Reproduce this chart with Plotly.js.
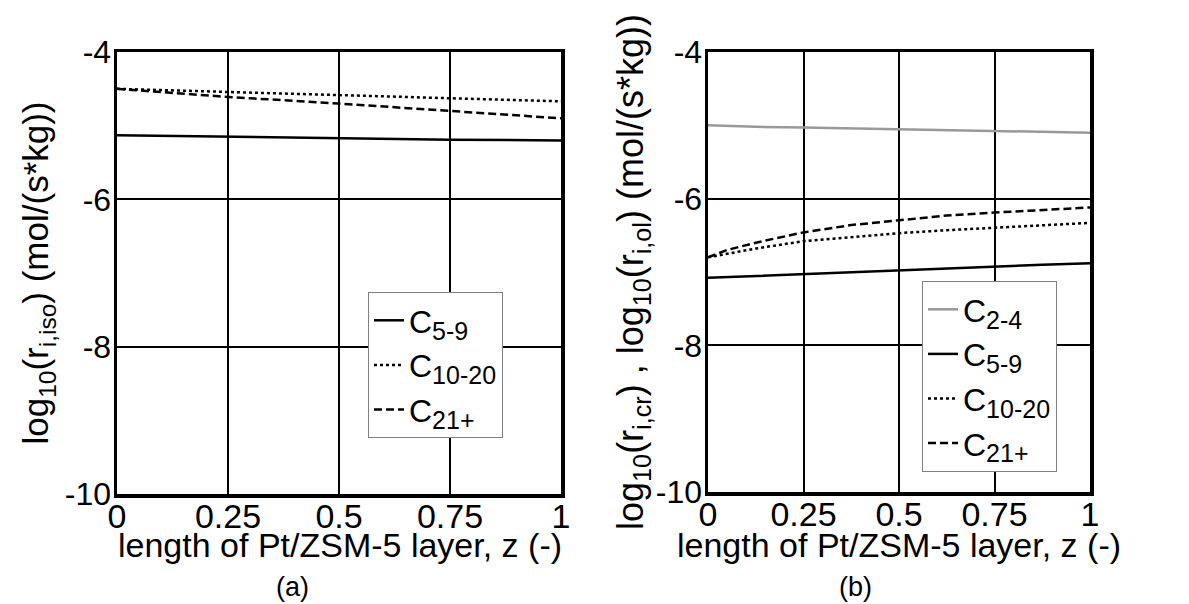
<!DOCTYPE html>
<html>
<head>
<meta charset="utf-8">
<script src="https://cdn.plot.ly/plotly-3.0.1.min.js"></script>
<style>html,body{margin:0;padding:0;background:#fff}#chart{width:1189px;height:604px}</style>
</head>
<body>
<div id="chart"></div>
<script>
// ---- data ----
var zLeft = [0, 0.25, 0.5, 0.75, 1];
var isoC5_9   = [-5.13, -5.15, -5.17, -5.19, -5.20];
var isoC10_20 = [-4.50, -4.54, -4.58, -4.62, -4.67];
var isoC21    = [-4.50, -4.61, -4.70, -4.80, -4.90];

var zRight = [0, 0.05, 0.125, 0.25, 0.375, 0.5, 0.625, 0.75, 0.875, 1];
var olC2_4    = [-5.00, -5.01, -5.02, -5.03, -5.04, -5.05, -5.06, -5.07, -5.085, -5.10];
var olC5_9    = [-7.08, -7.07, -7.05, -7.03, -7.00, -6.97, -6.945, -6.92, -6.90, -6.88];
var olC10_20  = [-6.80, -6.75, -6.68, -6.58, -6.52, -6.47, -6.43, -6.40, -6.36, -6.33];
var olC21     = [-6.80, -6.70, -6.60, -6.46, -6.36, -6.29, -6.23, -6.19, -6.15, -6.12];

var xTickVals = [0, 0.25, 0.5, 0.75, 1];
var xTickText = ['0', '0.25', '0.5', '0.75', '1'];
var yTickVals = [-10, -8, -6, -4];
var yTickText = ['-10', '-8', '-6', '-4'];

var SUB = function(s){ return 'C<sub><span style="font-size:25px">' + s + '</span></sub>'; };
var namesLeft  = [SUB('5-9'), SUB('10-20'), SUB('21+')];
var namesRight = [SUB('2-4'), SUB('5-9'), SUB('10-20'), SUB('21+')];

var xTitle = 'length of Pt/ZSM-5 layer, z (-)';
var yTitleLeft = 'log<sub>10</sub>(r<sub>i,iso</sub>) (mol/(s*kg))';
var yTitleRight = 'log<sub>10</sub>(r<sub>i,cr</sub>) , log<sub>10</sub>(r<sub>i,ol</sub>) (mol/(s*kg))';
var panelLabels = ['(a)', '(b)'];

// ---- styles ----
var FONT = 'Liberation Sans, Arial, sans-serif';
var solid = {color: '#000', width: 2.5, dash: 'solid'};
var dotted = {color: '#000', width: 2.5, dash: '3px,3px'};
var dashed = {color: '#000', width: 2.5, dash: '8px,4px'};
var grey = {color: '#999999', width: 2.5, dash: 'solid'};

var traces = [
  {x: zLeft, y: isoC5_9, name: namesLeft[0], line: solid, xaxis: 'x', yaxis: 'y', legend: 'legend'},
  {x: zLeft, y: isoC10_20, name: namesLeft[1], line: dotted, xaxis: 'x', yaxis: 'y', legend: 'legend'},
  {x: zLeft, y: isoC21, name: namesLeft[2], line: dashed, xaxis: 'x', yaxis: 'y', legend: 'legend'},
  {x: zRight, y: olC2_4, name: namesRight[0], line: grey, xaxis: 'x2', yaxis: 'y2', legend: 'legend2'},
  {x: zRight, y: olC5_9, name: namesRight[1], line: solid, xaxis: 'x2', yaxis: 'y2', legend: 'legend2'},
  {x: zRight, y: olC10_20, name: namesRight[2], line: dotted, xaxis: 'x2', yaxis: 'y2', legend: 'legend2'},
  {x: zRight, y: olC21, name: namesRight[3], line: dashed, xaxis: 'x2', yaxis: 'y2', legend: 'legend2'}
];
traces.forEach(function(t){ t.type = 'scatter'; t.mode = 'lines'; });

function xa(domain, anchor) {
  return {
    domain: domain, anchor: anchor, range: [0, 1],
    tickmode: 'array', tickvals: xTickVals, ticktext: xTickText,
    tickfont: {family: FONT, size: 34, color: '#000'}, ticklabelstandoff: -10,
    showgrid: true, gridcolor: '#000', gridwidth: 2, zeroline: false,
    showline: true, linecolor: '#000', linewidth: 3.5, mirror: true,
    ticks: '', automargin: false
  };
}
function ya(domain, anchor, title, size, standoff) {
  return {
    domain: domain, anchor: anchor, range: [-10, -4],
    tickmode: 'array', tickvals: yTickVals, ticktext: yTickText,
    tickfont: {family: FONT, size: 32, color: '#000'},
    showgrid: true, gridcolor: '#000', gridwidth: 2, zeroline: false,
    showline: true, linecolor: '#000', linewidth: 3.5, mirror: true,
    ticks: '', automargin: false, ticklabelstandoff: -4,
    title: {text: title, font: {family: FONT, size: size, color: '#000'}, standoff: standoff}
  };
}

var legendStyle = function(x, y) {
  return {
    x: x, y: y, xanchor: 'left', yanchor: 'top', xref: 'paper', yref: 'paper',
    bgcolor: '#fff', bordercolor: '#808080', borderwidth: 1,
    font: {family: FONT, size: 32, color: '#000'},
    itemwidth: 30, tracegroupgap: 0
  };
};

function ann(text, xc, yc, size) {
  return {text: text, x: xc/1189, y: 1 - yc/604, xref: 'paper', yref: 'paper', showarrow: false,
          xanchor: 'center', yanchor: 'middle', font: {family: FONT, size: size, color: '#000'}};
}

var layout = {
  width: 1189, height: 604,
  margin: {l: 0, r: 0, t: 0, b: 0},
  paper_bgcolor: '#fff', plot_bgcolor: '#fff',
  font: {family: FONT, color: '#000'},
  showlegend: true,
  xaxis: xa([117/1189, 561/1189], 'y'),
  yaxis: ya([(604-494)/604, (604-52)/604], 'x', yTitleLeft, 35, 6),
  xaxis2: xa([708/1189, 1090/1189], 'y2'),
  yaxis2: ya([(604-492)/604, (604-52)/604], 'x2', yTitleRight, 36, 1),
  legend: legendStyle(368/1189, 1 - 292/604),
  legend2: legendStyle(922/1189, 1 - 281/604),
  annotations: [
    ann(xTitle, 340, 545, 34),
    ann(xTitle, 899, 545, 34),
    ann(panelLabels[0], 292, 587, 27),
    ann(panelLabels[1], 855, 587, 27)
  ]
};

Plotly.newPlot('chart', traces, layout, {staticPlot: true, displayModeBar: false});
</script>
</body>
</html>
